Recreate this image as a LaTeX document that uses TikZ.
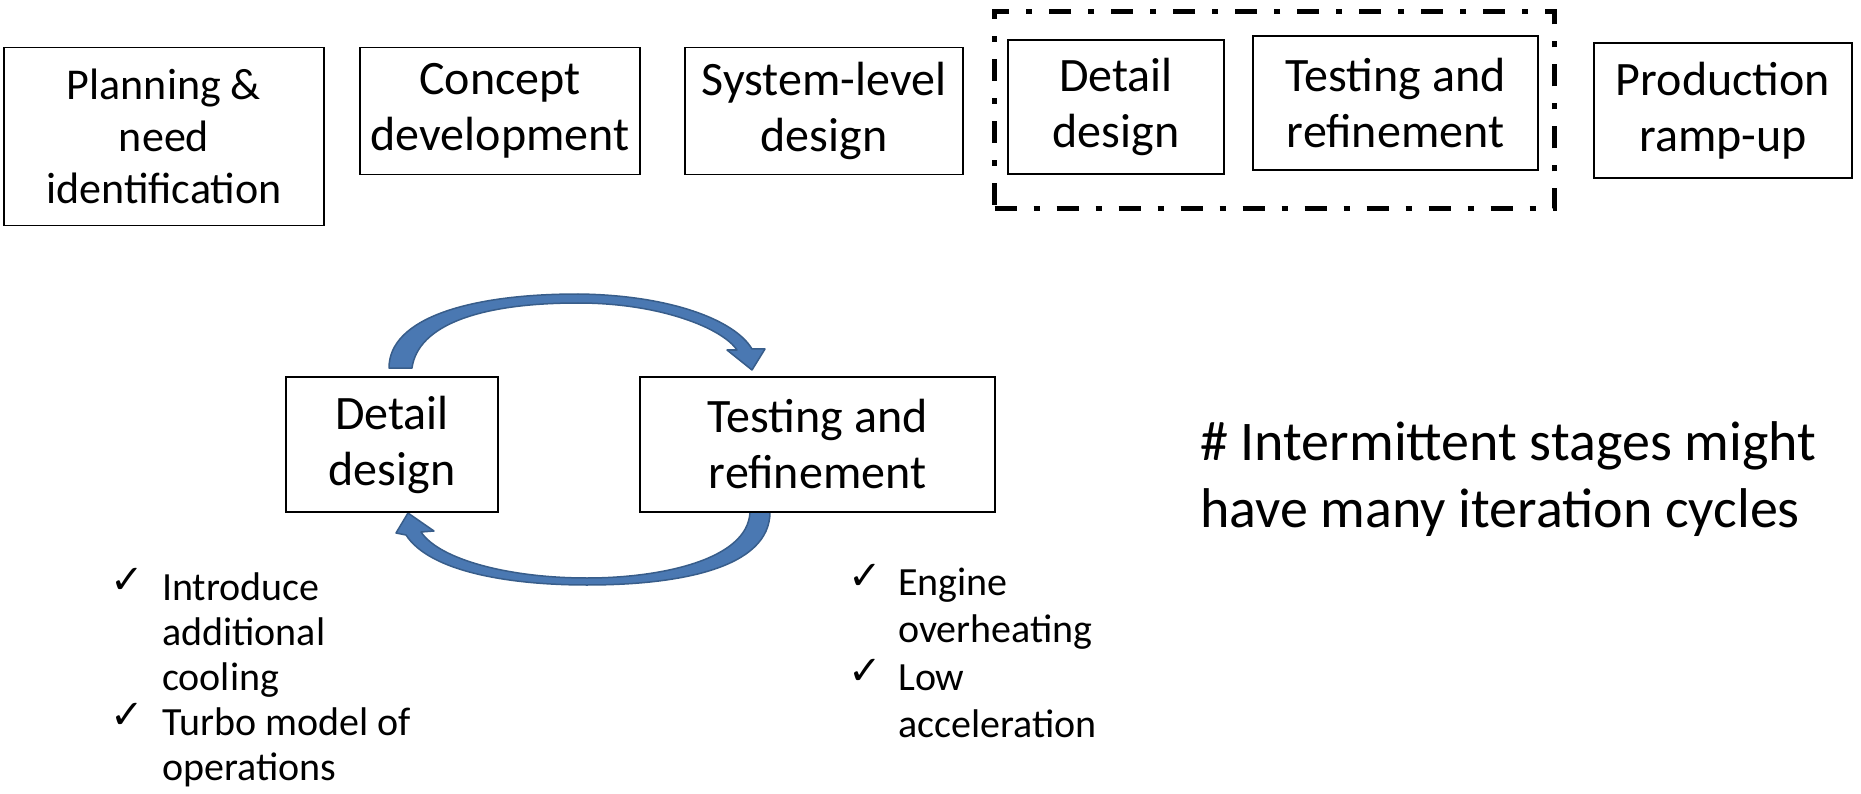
\documentclass[tikz,border=0pt]{standalone}
\usepackage{fontspec}
\setmainfont{Carlito}
\newfontfamily\checkfont{DejaVu Sans}
\definecolor{arrowblue}{HTML}{4A78B2}
\definecolor{arrowedge}{HTML}{385D8A}
\tikzset{
  stage/.style={draw=black, line width=1.8pt, align=center, inner sep=0pt,
                font=\fontsize{48}{56}\selectfont},
  phasebox/.style={draw=black, line width=5pt,
                   dash pattern=on 22pt off 17pt on 6pt off 17pt},
  loop/.style={fill=arrowblue, draw=arrowedge, line width=1.5pt, line join=round},
  tick/.style={inner sep=0pt, anchor=base west,
               font=\checkfont\fontsize{40}{40}\selectfont},
  item/.style={inner sep=0pt, anchor=base west, align=left},
}
\begin{document}
\begin{tikzpicture}[x=1pt,y=-1pt]
\useasboundingbox (0,0) rectangle (1861,794);

% product development stages
\node[stage, font=\fontsize{44}{52}\selectfont, minimum width=320pt, minimum height=178pt]
  (plan) at (164,136.5) {Planning \&\\need\\identification};
\node[stage, minimum width=280pt, minimum height=127pt] (concept) at (500,111)
  {Concept\\development};
\node[stage, minimum width=278pt, minimum height=127pt] (system) at (824,111)
  {System-level\\design};
\node[stage, minimum width=216pt, minimum height=134pt] (detailT) at (1116,107)
  {Detail\\design};
\node[stage, minimum width=285pt, minimum height=134pt] (testT) at (1395.5,103)
  {Testing and\\refinement};
\node[stage, minimum width=258pt, minimum height=135pt] (prod) at (1723,110.5)
  {Production\\ramp-up};

% frame around the iterative stages
\node[phasebox, minimum width=560pt, minimum height=196.5pt] (phase) at (1274.5,110.25) {};

% iteration loop arrows
\fill[loop] (389,368) .. controls (389,318) and (470,294) .. (578,294)
  .. controls (670,295) and (735,320) .. (752,349)
  -- (765,349) -- (752,370) -- (727,350) -- (737,350)
  .. controls (722,328) and (660,303) .. (578,303)
  .. controls (480,303) and (418,325) .. (412,368) -- cycle;
\fill[loop] (750,512) .. controls (748,560) and (660,578) .. (587,578)
  .. controls (510,578) and (440,560) .. (421,532)
  -- (434,531) -- (408,513) -- (396,533) -- (406,535)
  .. controls (430,572) and (510,585) .. (587,585)
  .. controls (680,585) and (770,568) .. (770,512) -- cycle;

% iteration loop stages
\node[stage, fill=white, minimum width=212pt, minimum height=135pt] (dd) at (392,444.5)
  {Detail\\design};
\node[stage, fill=white, minimum width=355pt, minimum height=135pt] (tr) at (817.5,444.5)
  {Testing and\\refinement};

% actions after detail design (base anchor sits on the last line)
\node[tick] (c1) at (110,593) {✓};
\node[item, font=\fontsize{40}{45}\selectfont] (a1) at (162,690)
  {Introduce\\additional\\cooling};
\node[tick] (c2) at (110,728) {✓};
\node[item, font=\fontsize{40}{45}\selectfont] (a2) at (162,780)
  {Turbo model of\\operations};

% findings from testing
\node[tick] (c3) at (848,589) {✓};
\node[item, font=\fontsize{40}{47}\selectfont] (f1) at (898,642)
  {Engine\\overheating};
\node[tick] (c4) at (848,684) {✓};
\node[item, font=\fontsize{40}{47}\selectfont] (f2) at (898,737)
  {Low\\acceleration};

% remark
\node[item, font=\fontsize{56}{67}\selectfont] (note) at (1200,527)
  {\# Intermittent stages might\\have many iteration cycles};
\end{tikzpicture}
\end{document}
